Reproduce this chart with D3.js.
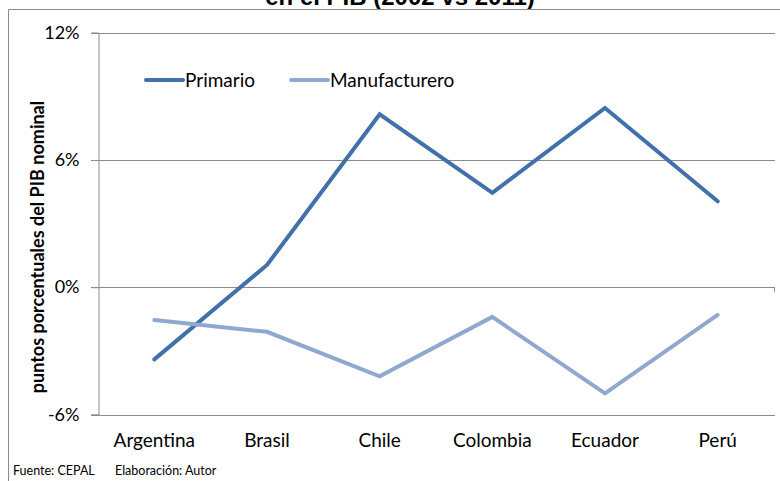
<!DOCTYPE html>
<html>
<head>
<meta charset="utf-8">
<script src="https://cdn.jsdelivr.net/npm/d3@7"></script>
<style>
  html, body { margin: 0; padding: 0; background: #fff; }
  svg { display: block; }
  text { font-family: Lato, "Open Sans", "Liberation Sans", sans-serif; fill: #000; }
</style>
</head>
<body>
<svg id="chart" width="780" height="481"></svg>
<script>
// Cambio en la participación sectorial en el PIB, por país
const countries = ["Argentina", "Brasil", "Chile", "Colombia", "Ecuador", "Perú"];
const primario = [-3.4, 1.05, 8.15, 4.45, 8.45, 4.05];
const manufacturero = [-1.55, -2.1, -4.2, -1.4, -5.0, -1.3];
const yTicks = [-6, 0, 6, 12];
const seriesNames = ["Primario", "Manufacturero"];
const seriesColors = ["#4170aa", "#8fa8d0"];

const svg = d3.select("#chart");
const margin = { left: 98, right: 774, top: 32.7, bottom: 414.5 };

const x = d3.scaleBand().domain(countries).range([margin.left, margin.right]);
const y = d3.scaleLinear().domain([-6, 12]).range([margin.bottom, margin.top]);

// Title (partly outside the chart area)
svg.append("text")
  .attr("x", 400).attr("y", 5)
  .attr("text-anchor", "middle")
  .style("font-size", "24px").style("font-weight", "bold")
  .style("font-family", "'Liberation Sans', Arial, sans-serif")
  .text("en el PIB (2002 vs 2011)");

// Chart area border
svg.append("path")
  .attr("d", "M8.5,481 V9.5 H780")
  .attr("fill", "none").attr("stroke", "#8a8a8a").attr("stroke-width", 1);

// Horizontal gridlines
svg.append("g").selectAll("line").data(yTicks).join("line")
  .attr("x1", margin.left - 7).attr("x2", margin.right + 1)
  .attr("y1", d => Math.round(y(d)) + 0.5).attr("y2", d => Math.round(y(d)) + 0.5)
  .attr("stroke", "#8a8a8a").attr("stroke-width", 1);

// Vertical axis
const yAxis = d3.axisLeft(y).tickValues(yTicks).tickSize(7).tickPadding(12)
  .tickFormat(d => d + "%");
const gy = svg.append("g").attr("transform", `translate(${margin.left + 0.5},0)`).call(yAxis);
gy.select(".domain").attr("stroke", "#8a8a8a");
gy.selectAll(".tick line").attr("stroke", "#8a8a8a");
gy.selectAll(".tick text").style("font-size", "18px")
  .style("font-family", "Lato, 'Open Sans', sans-serif").attr("fill", "#000");

// End tick on the category axis
svg.append("line")
  .attr("x1", margin.right + 0.5).attr("x2", margin.right + 0.5)
  .attr("y1", Math.round(y(0)) + 0.5).attr("y2", Math.round(y(0)) + 5)
  .attr("stroke", "#8a8a8a");

// Category labels
svg.append("g").selectAll("text").data(countries).join("text")
  .attr("x", d => x(d) + x.bandwidth() / 2)
  .attr("y", 447)
  .attr("text-anchor", "middle")
  .style("font-size", "19px")
  .text(d => d);

// Y-axis title
svg.append("text")
  .attr("transform", "translate(44,247) rotate(-90)")
  .attr("text-anchor", "middle")
  .style("font-size", "18px").style("font-weight", "bold")
  .text("puntos porcentuales del PIB nominal");

// Series lines
const line = d3.line()
  .x((d, i) => x(countries[i]) + x.bandwidth() / 2)
  .y(d => y(d));

[primario, manufacturero].forEach((vals, k) => {
  svg.append("path")
    .datum(vals)
    .attr("d", line)
    .attr("fill", "none")
    .attr("stroke", seriesColors[k])
    .attr("stroke-width", 4)
    .attr("stroke-linejoin", "miter")
    .attr("stroke-linecap", "round");
});

// Legend
const legendX = [146, 291];
seriesNames.forEach((name, k) => {
  svg.append("line")
    .attr("x1", legendX[k]).attr("x2", legendX[k] + 37)
    .attr("y1", 80).attr("y2", 80)
    .attr("stroke", seriesColors[k]).attr("stroke-width", 4)
    .attr("stroke-linecap", "round");
  svg.append("text")
    .attr("x", legendX[k] + 39).attr("y", 86.5)
    .style("font-size", "19px")
    .text(name);
});

// Footer
svg.append("text").attr("x", 13).attr("y", 475).style("font-size", "12.5px").text("Fuente: CEPAL");
svg.append("text").attr("x", 115).attr("y", 475).style("font-size", "12.5px").text("Elaboración: Autor");
</script>
</body>
</html>
